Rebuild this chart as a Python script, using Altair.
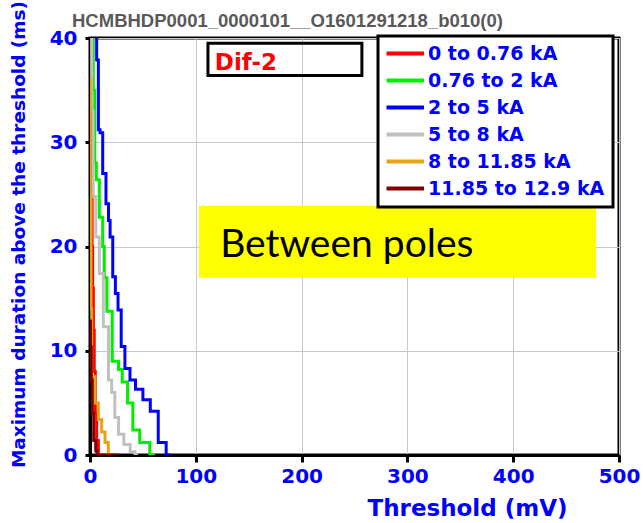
import altair as alt
import pandas as pd

# ---------------- data ----------------
series_names = ["0 to 0.76 kA", "0.76 to 2 kA", "2 to 5 kA", "5 to 8 kA",
                "8 to 11.85 kA", "11.85 to 12.9 kA"]
series_colors = ["#FF0000", "#00EE00", "#0000FF", "#C0C0C0", "#E8A317", "#800000"]

red_x = [0.3, 1, 2, 2.5, 3.2, 4, 5, 6.3, 7.9, 9.5]
red_y = [45, 33, 25, 20, 16, 12, 8, 4, 1.4, 0]

green_x = [3.1, 4.5, 6, 8.8, 12, 13.5, 16, 21, 27, 30.5, 35.5, 40.5, 47, 56.5, 61.5]
green_y = [45, 35, 28, 26.4, 22.8, 20, 17, 13.8, 9, 8.2, 7, 5, 2.4, 1.2, 0]

blue_x = [6.3, 7.9, 9.5, 12, 15.1, 17.5, 19, 21.5, 24, 26.5, 29.5, 33, 37.8, 43,
          50, 57, 64.5, 72, 75.7]
blue_y = [45, 37.9, 31.2, 30.9, 27, 24.1, 22.5, 20.9, 17.1, 15.5, 13.9, 10.4, 8.3,
          7.2, 6.3, 5.3, 4.2, 1.2, 0]

gray_x = [1.6, 3, 5.5, 8.8, 12.6, 17.5, 20.5, 23.5, 27, 32, 38, 42.5, 45.5]
gray_y = [45, 33, 24.8, 20.9, 17.4, 12.3, 7.2, 6, 3.6, 2, 1, 0.3, 0]

orange_x = [0.3, 1, 1.6, 4.7, 7.9, 11, 14.2, 17.3, 19]
orange_y = [36.2, 25, 14, 7.5, 5, 3.4, 2.2, 1.2, 0]

maroon_x = [0.5, 1.2, 2.2, 3.5, 5.4, 6.6, 26.8]
maroon_y = [13, 10.4, 7.2, 4, 1.4, 0.4, 0]

x_ticks = [0, 100, 200, 300, 400, 500]
y_ticks = [0, 10, 20, 30, 40]

title_text = "HCMBHDP0001_0000101__O1601291218_b010(0)"
tag_text = "Dif-2"
note_text = "Between poles"

# annotation boxes in data units (threshold, duration)
tag_box = {"threshold": 111.5, "threshold2": 257, "duration": 39.5, "duration2": 36.4}
tag_pos = {"threshold": 118, "duration": 36.9}
note_box = {"threshold": 103, "threshold2": 478.3, "duration": 23.9, "duration2": 17.0}
note_pos = {"threshold": 123, "duration": 19.0}

# ---------------- build table ----------------
rows = []
for name, xs, ys in zip(series_names,
                        [red_x, green_x, blue_x, gray_x, orange_x, maroon_x],
                        [red_y, green_y, blue_y, gray_y, orange_y, maroon_y]):
    for i, (xv, yv) in enumerate(zip(xs, ys)):
        rows.append({"series": name, "i": i, "threshold": xv, "duration": yv})
df = pd.DataFrame(rows)

BLUE = "#0000FF"
FONT = "DejaVu Sans"

x_scale = alt.Scale(domain=[0, 500], nice=False, zero=False)
y_scale = alt.Scale(domain=[0, 40], nice=False, zero=False)

x_axis = alt.Axis(values=x_ticks, grid=True, gridColor="#C8C8C8", gridWidth=1,
                  domainColor="black", domainWidth=3, tickColor="black", tickWidth=3,
                  tickSize=7, labelFont=FONT, labelFontSize=20, labelFontWeight="bold",
                  labelColor=BLUE, labelPadding=4, labelFlush=False, labelOverlap=False,
                  title="Threshold (mV)", titleFont=FONT, titleFontSize=23,
                  titleFontWeight="bold", titleColor=BLUE, titleX=377, titleY=53,
                  titleAlign="center", titleBaseline="middle")
y_axis = alt.Axis(values=y_ticks, grid=True, gridColor="#C8C8C8", gridWidth=1,
                  domainColor="black", domainWidth=3, tickColor="black", tickWidth=3,
                  tickSize=5, labelFont=FONT, labelFontSize=20, labelFontWeight="bold",
                  labelColor=BLUE, labelPadding=8, labelFlush=False, labelOverlap=False,
                  title="Maximum duration above the threshold (ms)", titleFont=FONT,
                  titleFontSize=18.5, titleFontWeight="bold", titleColor=BLUE,
                  titleX=-72, titleY=196, titleAngle=270, titleAlign="center",
                  titleBaseline="middle")

lines = alt.Chart(df).mark_line(interpolate="step-before", strokeWidth=3, clip=True).encode(
    x=alt.X("threshold:Q", scale=x_scale, axis=x_axis),
    y=alt.Y("duration:Q", scale=y_scale, axis=y_axis),
    color=alt.Color("series:N",
                    scale=alt.Scale(domain=series_names, range=series_colors),
                    sort=series_names,
                    legend=alt.Legend(orient="none", legendX=288, legendY=-2, title=None,
                                      symbolType="M-2,0H5.5", symbolSize=100,
                                      symbolStrokeWidth=4, symbolOffset=1,
                                      labelOffset=22, labelFont=FONT, labelFontSize=19,
                                      labelFontWeight="bold", labelColor=BLUE,
                                      labelLimit=400,
                                      labelExpr="datum.label + '\u00a0'",
                                      padding=8, rowPadding=7,
                                      fillColor="white", strokeColor="black")),
    order=alt.Order("i:Q"),
)

note_rect = alt.Chart(pd.DataFrame([note_box])).mark_rect(color="#FFFF00").encode(
    x="threshold:Q", x2="threshold2:Q", y="duration:Q", y2="duration2:Q")
note_label = alt.Chart(pd.DataFrame([dict(note_pos, t=note_text)])).mark_text(
    font="Lato", fontSize=39, color="black", align="left", baseline="alphabetic").encode(
    x="threshold:Q", y="duration:Q", text="t:N")
tag_rect = alt.Chart(pd.DataFrame([tag_box])).mark_rect(
    fill="transparent", stroke="black", strokeWidth=3).encode(
    x="threshold:Q", x2="threshold2:Q", y="duration:Q", y2="duration2:Q")
tag_label = alt.Chart(pd.DataFrame([dict(tag_pos, t=tag_text)])).mark_text(
    font=FONT, fontSize=23, fontWeight="bold", color="#FF0000", align="left",
    baseline="alphabetic").encode(x="threshold:Q", y="duration:Q", text="t:N")
title_label = alt.Chart(pd.DataFrame({"t": [title_text]})).mark_text(
    font="Liberation Sans", fontSize=18.5, fontWeight="bold", color="#595959",
    align="left", baseline="alphabetic").encode(
    x=alt.value(-18), y=alt.value(-11), text="t:N")

chart = alt.layer(note_rect, note_label, tag_rect, tag_label, title_label, lines).properties(
    width=529, height=417,
    autosize=alt.AutoSizeParams(type="none"),
    padding={"left": 90, "top": 38, "right": 24, "bottom": 68},
).configure_view(stroke="black", strokeWidth=3).configure_legend(strokeWidth=3)

chart.save("out.html", embed_options={"renderer": "svg", "actions": False})
